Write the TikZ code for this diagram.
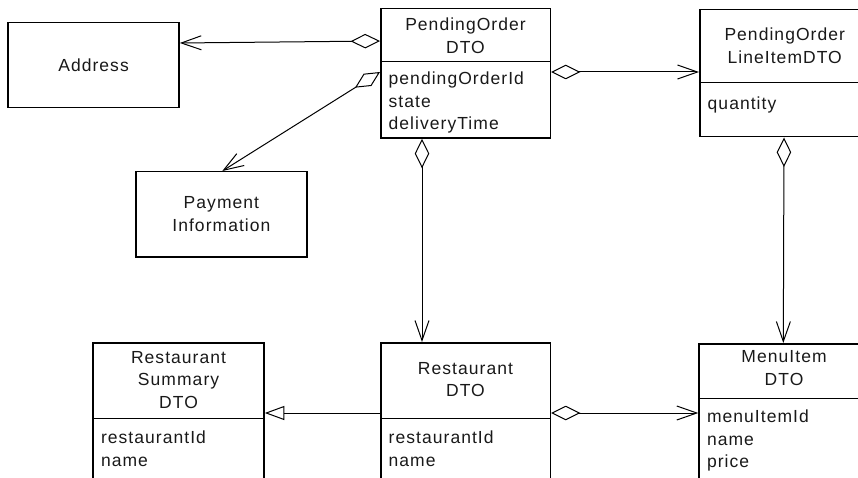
\documentclass[tikz,border=0pt]{standalone}
\usepackage{fontspec}
\setmainfont{Liberation Sans}[LetterSpace=6]
\usetikzlibrary{arrows.meta}

\tikzset{
  umlfont/.style={font=\fontsize{17.5}{22.5}\selectfont, text=black!90},
  box/.style={draw, line width=1.5pt, inner sep=0pt, anchor=north west},
  divider/.style={line width=1pt},
  title/.style={umlfont, align=center, inner sep=0pt, anchor=north},
  attrs/.style={umlfont, align=left, inner sep=0pt, anchor=north west},
  agg/.style={line width=1pt,
    {Diamond[open,length=29.5pt,width=14.5pt]}-{Straight Barb[length=20pt,width=14pt]}},
  gen/.style={line width=1pt, -{Triangle[open,length=19.5pt,width=14pt]}},
}

\begin{document}
\begin{tikzpicture}[x=1pt, y=-1pt]
\useasboundingbox (0,0) rectangle (858,478);
\clip (0,0) rectangle (858,478);

% plain classes
\node[box, umlfont, align=center, minimum width=171pt, minimum height=85pt] (addr) at (7.3,22) {Address};
\node[box, umlfont, align=center, minimum width=170.7pt, minimum height=85pt] (pay) at (135.3,171) {Payment\\Information};

% PendingOrderDTO
\node[box, minimum width=169.5pt, minimum height=129.3pt] (po) at (380,8) {};
\draw[divider] ([yshift=-54pt]po.north west) -- ([yshift=-54pt]po.north east);
\node[title] (po-name) at ([yshift=-10pt]po.north) {\vphantom{Ay}PendingOrder\\DTO};
\node[attrs] (po-attr) at ([xshift=8.5pt,yshift=-64pt]po.north west) {\vphantom{Ay}pendingOrderId\\state\\deliveryTime};

% PendingOrderLineItemDTO
\node[box, minimum width=170pt, minimum height=127pt] (poli) at (699,9) {};
\draw[divider] ([yshift=-74pt]poli.north west) -- ([yshift=-74pt]poli.north east);
\node[title] (poli-name) at ([yshift=-19pt]poli.north) {\vphantom{Ay}PendingOrder\\LineItemDTO};
\node[attrs] (poli-attr) at ([xshift=8.5pt,yshift=-87.3pt]poli.north west) {\vphantom{Ay}quantity};

% RestaurantSummaryDTO
\node[box, minimum width=171pt, minimum height=150pt] (rs) at (92.3,342) {};
\draw[divider] ([yshift=-76pt]rs.north west) -- ([yshift=-76pt]rs.north east);
\node[title] (rs-name) at ([yshift=-9pt]rs.north) {\vphantom{Ay}Restaurant\\Summary\\DTO};
\node[attrs] (rs-attr) at ([xshift=8.5pt,yshift=-89pt]rs.north west) {\vphantom{Ay}restaurantId\\name};

% RestaurantDTO
\node[box, minimum width=169.5pt, minimum height=150pt] (rd) at (380,342) {};
\draw[divider] ([yshift=-76pt]rd.north west) -- ([yshift=-76pt]rd.north east);
\node[title] (rd-name) at ([yshift=-20pt]rd.north) {\vphantom{Ay}Restaurant\\DTO};
\node[attrs] (rd-attr) at ([xshift=8.5pt,yshift=-89pt]rd.north west) {\vphantom{Ay}restaurantId\\name};

% MenuItemDTO
\node[box, minimum width=170pt, minimum height=150pt] (mi) at (698.3,343) {};
\draw[divider] ([yshift=-55.5pt]mi.north west) -- ([yshift=-55.5pt]mi.north east);
\node[title] (mi-name) at ([yshift=-7.5pt]mi.north) {\vphantom{Ay}MenuItem\\DTO};
\node[attrs] (mi-attr) at ([xshift=8.5pt,yshift=-67pt]mi.north west) {\vphantom{Ay}menuItemId\\name\\price};

% associations
\draw[agg] ([yshift=-33pt]po.north west) -- ([yshift=-21pt]addr.north east);
\draw[agg] ([yshift=-64pt]po.north west) -- ([xshift=87pt]pay.north west);
\draw[agg] ([yshift=-64pt]po.north east) -- ([yshift=-63pt]poli.north west);
\draw[agg] ([xshift=42pt]po.south west) -- ([xshift=42pt]rd.north west);
\draw[agg] ([xshift=85pt]poli.south west) -- ([xshift=85pt]mi.north west);
\draw[agg] ([yshift=-71pt]rd.north east) -- ([yshift=-70pt]mi.north west);
\draw[gen] ([yshift=-71pt]rd.north west) -- ([yshift=-71pt]rs.north east);
\end{tikzpicture}
\end{document}
